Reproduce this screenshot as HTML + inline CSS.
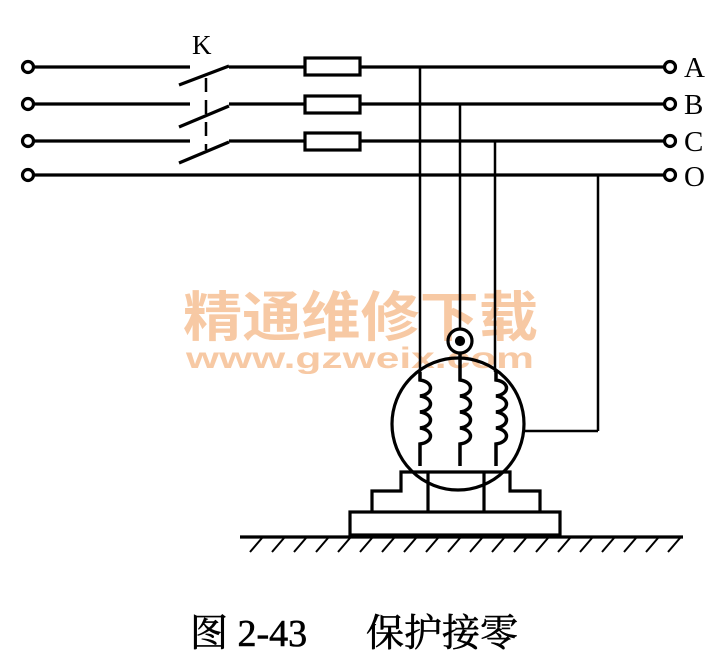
<!DOCTYPE html>
<html><head><meta charset="utf-8"><style>
html,body{margin:0;padding:0;background:#fff;}
svg{display:block;}
</style></head><body>
<svg width="722" height="661" viewBox="0 0 722 661" xmlns="http://www.w3.org/2000/svg">
<g font-family="'Noto Sans CJK SC', sans-serif" font-weight="bold" fill="#f7c9a4">
<text x="183" y="336" font-size="54" textLength="355" lengthAdjust="spacingAndGlyphs">精通维修下载</text>
</g>
<text x="186" y="368" font-family="'Liberation Sans', sans-serif" font-weight="bold" font-size="30" fill="#f7c9a4" textLength="348" lengthAdjust="spacingAndGlyphs">www.gzweix.com</text>
<g stroke="#000" stroke-width="3.2" fill="none">
<line x1="34" y1="67" x2="190" y2="67"/>
<line x1="34" y1="104" x2="190" y2="104"/>
<line x1="34" y1="141" x2="190" y2="141"/>
<line x1="34" y1="175" x2="664" y2="175"/>
<line x1="179" y1="85" x2="229" y2="66"/>
<line x1="179" y1="127" x2="229" y2="106"/>
<line x1="179" y1="163" x2="229" y2="142"/>
<line x1="206" y1="78" x2="206" y2="150" stroke-dasharray="14,8" stroke-width="2.5"/>
<line x1="229" y1="67" x2="305" y2="67"/>
<line x1="229" y1="104" x2="305" y2="104"/>
<line x1="229" y1="141" x2="305" y2="141"/>
<rect x="305" y="58" width="55" height="17"/>
<rect x="305" y="96" width="55" height="17"/>
<rect x="305" y="133" width="55" height="17"/>
<line x1="360" y1="67" x2="664" y2="67"/>
<line x1="360" y1="104" x2="664" y2="104"/>
<line x1="360" y1="141" x2="664" y2="141"/>
<circle cx="28" cy="67" r="5.5"/><circle cx="28" cy="104" r="5.5"/><circle cx="28" cy="141" r="5.5"/><circle cx="28" cy="175" r="5.5"/>
<circle cx="670" cy="67" r="5.5"/><circle cx="670" cy="104" r="5.5"/><circle cx="670" cy="141" r="5.5"/><circle cx="670" cy="175" r="5.5"/>
<line x1="420" y1="67" x2="420" y2="372" stroke-width="2.5"/>
<line x1="460" y1="104" x2="460" y2="328" stroke-width="2.5"/>
<line x1="495" y1="141" x2="495" y2="372" stroke-width="2.5"/>
<line x1="598" y1="175" x2="598" y2="431" stroke-width="2.5"/>
<line x1="524" y1="431" x2="598" y2="431" stroke-width="2.5"/>
<circle cx="460" cy="341" r="12"/>
<circle cx="460" cy="341" r="3.5" fill="#000"/>
<circle cx="458" cy="424" r="66"/>
<g stroke-width="3.5">
<path d="M420 372 v8 c14 2 14 14 0 16 c14 2 14 14 0 16 c14 2 14 14 0 16 c14 2 14 14 0 16 v22"/>
<path d="M460 353 v27 c14 2 14 14 0 16 c14 2 14 14 0 16 c14 2 14 14 0 16 c14 2 14 14 0 16 v22"/>
<path d="M496 372 v8 c14 2 14 14 0 16 c14 2 14 14 0 16 c14 2 14 14 0 16 c14 2 14 14 0 16 v22"/>
</g>
<path d="M372 511 V491 H401 V472 H510 V491 H540 V511"/>
<line x1="428" y1="472" x2="428" y2="511"/>
<line x1="484" y1="472" x2="484" y2="511"/>
<rect x="350" y="512" width="210" height="23"/>
<line x1="240" y1="537" x2="683" y2="537"/>
</g>
<g stroke="#000" stroke-width="2">
<path d="M262 538 l-12 14 M284 538 l-12 14 M306 538 l-12 14 M328 538 l-12 14 M350 538 l-12 14 M372 538 l-12 14 M394 538 l-12 14 M416 538 l-12 14 M438 538 l-12 14 M460 538 l-12 14 M482 538 l-12 14 M504 538 l-12 14 M526 538 l-12 14 M548 538 l-12 14 M570 538 l-12 14 M592 538 l-12 14 M614 538 l-12 14 M636 538 l-12 14 M658 538 l-12 14 M680 538 l-12 14"/>
</g>
<g font-family="'Liberation Serif', serif" font-size="29" fill="#000">
<text x="192" y="54" font-size="27">K</text>
<text x="684" y="77">A</text>
<text x="684" y="114">B</text>
<text x="684" y="151">C</text>
<text x="684" y="186">O</text>
</g>
<text x="190" y="646" font-family="'Liberation Serif', 'Noto Serif CJK SC', serif" font-size="38" fill="#000" stroke="#000" stroke-width="0.6">图 2-43<tspan x="366">保护接零</tspan></text>
</svg>
</body></html>
